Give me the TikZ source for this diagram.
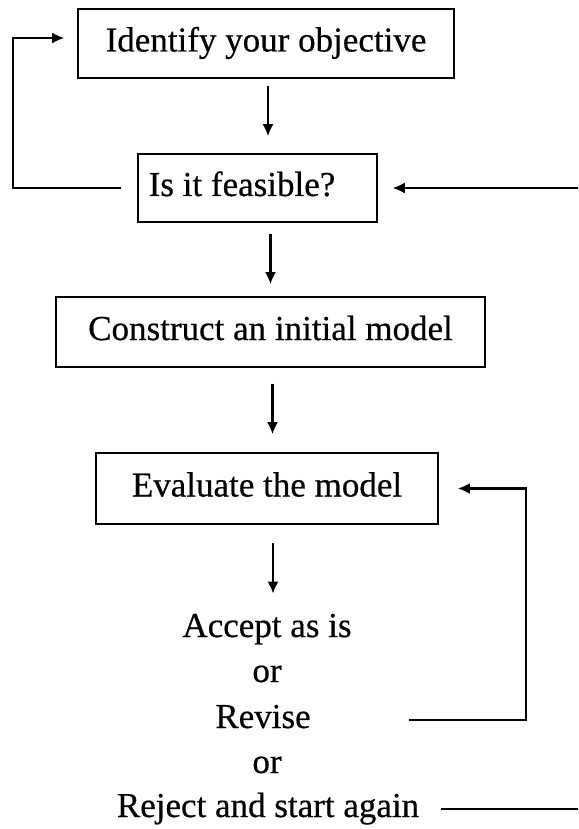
\documentclass[tikz,border=0pt]{standalone}
\usepackage{fontspec}
\setmainfont{Liberation Serif}[FakeBold=0.5]
\usetikzlibrary{arrows.meta}
\begin{document}
\begin{tikzpicture}[x=1pt,y=-1pt,
  txt/.style={font=\fontsize{35}{40}\selectfont},
  box/.style={draw, line width=1.6pt, inner sep=0pt, text height=24pt, text depth=8pt, txt},
  lbl/.style={inner sep=0pt, anchor=base, txt},
  arr/.style={line width=2.2pt, -{Latex[length=12pt,width=11pt]}}]
\useasboundingbox (0,0) rectangle (578,829);
\clip (0,0) rectangle (578,829);
\node[box, minimum width=376pt, minimum height=69pt] (b1) at (266,43.5) {Identify your objective};
\node[box, minimum width=239pt, minimum height=68pt] (b2) at (257.5,188) {Is it feasible?\kern31pt\null};
\node[box, minimum width=429pt, minimum height=70pt] (b3) at (270.5,332) {Construct an initial model};
\node[box, minimum width=342pt, minimum height=71pt] (b4) at (267,488.5) {Evaluate the model};
\node[lbl] (acc) at (267,637) {Accept as is};
\node[lbl] (or1) at (267,682) {or};
\node[lbl] (rev) at (263,728) {Revise};
\node[lbl] (or2) at (267,773) {or};
\node[lbl] (rej) at (268,817) {Reject and start again};
\coordinate (revend) at (409,720);
\coordinate (rejend) at (441,809);
\coordinate (lft) at (13,0);
\coordinate (rgt) at (600,0);
\coordinate (rv) at (526,0);
% main flow
\draw[arr, shorten <=7pt, shorten >=17pt] ([xshift=2pt]b1.south) -- ([xshift=2pt]b1.south |- b2.north);
\draw[arr, shorten <=11pt, shorten >=12pt] (b3.north |- b2.south) -- (b3.north);
\draw[arr, shorten <=16pt, shorten >=18pt] ([xshift=2pt]b3.south) -- ([xshift=2pt]b3.south |- b4.north);
\draw[arr, shorten <=18pt, shorten >=20pt] ([xshift=6pt]b4.south) -- ([xshift=6pt]b4.south |- acc.north);
% loops
\draw[arr] ([xshift=-16pt]b2.west) -- (b2.west -| lft) -- ([yshift=5.5pt]b1.west -| lft) -- ([xshift=-13pt,yshift=5.5pt]b1.west);
\draw[arr] (rejend) -- (rejend -| rgt) -- (b2.east -| rgt) -- ([xshift=15pt]b2.east);
\draw[arr] (revend) -- (revend -| rv) -- (b4.east -| rv) -- ([xshift=19pt]b4.east);
\end{tikzpicture}
\end{document}
